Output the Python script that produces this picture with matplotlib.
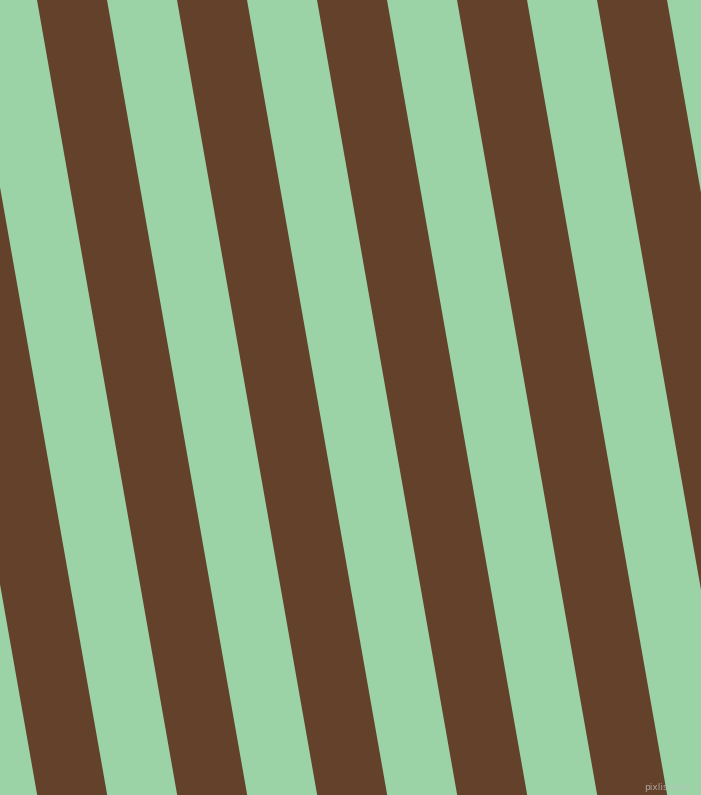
import numpy as np
import matplotlib
matplotlib.use("Agg")
import matplotlib.pyplot as plt

# Data: stripe left edges along the top edge (px), stripe width and lean
stripe_left = [-103, 37, 177, 317, 457, 597]
stripe_width = 70
lean_deg = 10
band_colors = ["#9bd3a7", "#63412a"]  # background, stripe

W, H = 701, 795
fig = plt.figure(figsize=(W / 100, H / 100), dpi=100)
fig.patch.set_facecolor(band_colors[0])
ax = fig.add_axes([0, 0, 1, 1])
ax.set_xlim(0, W)
ax.set_ylim(H, 0)
ax.set_facecolor(band_colors[0])
ax.axis("off")

shift = np.tan(np.radians(lean_deg)) * H
for x0 in stripe_left:
    xs = [x0, x0 + stripe_width, x0 + stripe_width + shift, x0 + shift]
    ys = [0, 0, H, H]
    ax.fill(xs, ys, color=band_colors[1], linewidth=0, antialiased=True)

ax.text(690, 788, "pixlis.com", ha="right", va="center", fontsize=6.5,
        color="#bfbfbf", alpha=0.8, family="DejaVu Sans")

fig.savefig("out.png", dpi=100, facecolor=fig.get_facecolor())
